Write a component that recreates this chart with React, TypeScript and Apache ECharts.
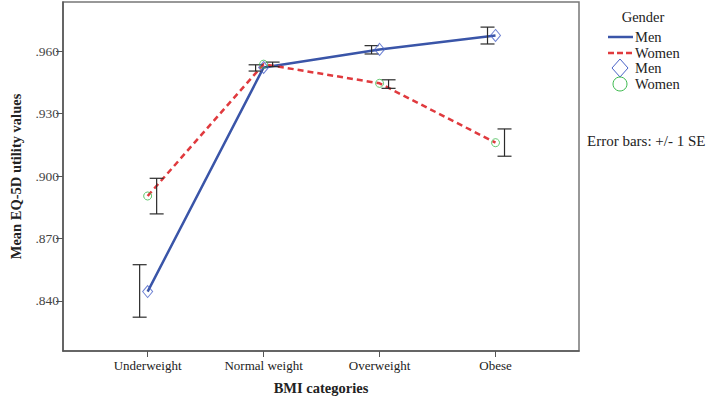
import React, { useEffect, useRef } from "react";
import * as echarts from "echarts";

const categories = ["Underweight", "Normal weight", "Overweight", "Obese"];
const menMean = [0.8445, 0.9521, 0.9608, 0.9675];
const menLow = [0.8322, 0.9504, 0.9586, 0.9634];
const menHigh = [0.8574, 0.9534, 0.9626, 0.9715];
const womenMean = [0.8904, 0.9537, 0.9445, 0.916];
const womenLow = [0.8818, 0.9525, 0.9421, 0.9095];
const womenHigh = [0.8989, 0.9547, 0.9462, 0.9226];
const yTicks = [0.84, 0.87, 0.9, 0.93, 0.96];
const xTicks = [0, 1, 2, 3];

const FONT = "Liberation Serif";
const MEN_COLOR = "#3a55a8";
const WOMEN_COLOR = "#e03a3e";
const MEN_MARK = "#4a63c8";
const WOMEN_MARK = "#3dba4e";

function errorBarSeries(low: number[], high: number[], offset: number) {
  return {
    type: "custom",
    z: 5,
    data: low.map((l, i) => [i, l, high[i]]),
    renderItem: (params: any, api: any) => {
      const x = api.value(0);
      const top = api.coord([x, api.value(2)]);
      const bot = api.coord([x, api.value(1)]);
      const cx = top[0] + offset;
      const hw = 7;
      const style = { stroke: "#2b2b2b", lineWidth: 1.2 };
      return {
        type: "group",
        children: [
          { type: "line", shape: { x1: cx, y1: top[1], x2: cx, y2: bot[1] }, style },
          { type: "line", shape: { x1: cx - hw, y1: top[1], x2: cx + hw, y2: top[1] }, style },
          { type: "line", shape: { x1: cx - hw, y1: bot[1], x2: cx + hw, y2: bot[1] }, style },
        ],
      };
    },
  };
}

export default function App() {
  const ref = useRef<HTMLDivElement>(null);
  useEffect(() => {
    if (!ref.current) return;
    const chart = echarts.init(ref.current, null, { renderer: "svg" });
    const txt = { fontFamily: FONT, fontSize: 14.5, fill: "#222" };
    chart.setOption({
      animation: false,
      backgroundColor: "#fff",
      textStyle: { fontFamily: FONT },
      grid: {
        left: 54,
        right: 130,
        top: 2,
        bottom: 49,
        show: true,
        borderColor: "#777",
        borderWidth: 1.5,
        backgroundColor: "transparent",
      },
      xAxis: {
        type: "value",
        min: -0.73,
        max: 3.72,
        name: "BMI categories",
        nameLocation: "middle",
        nameGap: 29,
        nameTextStyle: { fontFamily: FONT, fontSize: 14.5, fontWeight: "bold", color: "#222" },
        splitLine: { show: false },
        axisLine: { onZero: false, lineStyle: { color: "#555", width: 1.5 } },
        axisTick: { customValues: xTicks, length: 6, lineStyle: { color: "#555" } },
        axisLabel: {
          customValues: xTicks,
          formatter: (v: number) => categories[Math.round(v)] ?? "",
          fontFamily: FONT,
          fontSize: 13,
          color: "#222",
          margin: 8,
        },
      },
      yAxis: {
        type: "value",
        min: 0.81596,
        max: 0.98356,
        name: "Mean EQ-5D utility values",
        nameLocation: "middle",
        nameGap: 40,
        nameRotate: 90,
        nameTextStyle: { fontFamily: FONT, fontSize: 14.5, fontWeight: "bold", color: "#222" },
        splitLine: { show: false },
        axisLine: { show: true, onZero: false, lineStyle: { color: "#555", width: 1.5 } },
        axisTick: { show: true, customValues: yTicks, length: 7, lineStyle: { color: "#555" } },
        axisLabel: {
          customValues: yTicks,
          formatter: (v: number) => v.toFixed(3).replace(/^0/, ""),
          fontFamily: FONT,
          fontSize: 13.5,
          color: "#444",
          margin: 4,
        },
      },
      series: [
        {
          type: "line",
          name: "Men",
          data: menMean.map((v, i) => [i, v]),
          showSymbol: false,
          lineStyle: { color: MEN_COLOR, width: 2.5 },
          z: 3,
        },
        {
          type: "line",
          name: "Women",
          data: womenMean.map((v, i) => [i, v]),
          showSymbol: false,
          lineStyle: { color: WOMEN_COLOR, width: 2.5, type: [6, 4] },
          z: 3,
        },
        {
          type: "scatter",
          data: menMean.map((v, i) => [i, v]),
          symbol: "diamond",
          symbolSize: [10, 12],
          itemStyle: { color: "rgba(255,255,255,0)", borderColor: MEN_MARK, borderWidth: 1 },
          z: 6,
        },
        {
          type: "scatter",
          data: womenMean.map((v, i) => [i, v]),
          symbol: "circle",
          symbolSize: 8,
          itemStyle: { color: "rgba(255,255,255,0)", borderColor: WOMEN_MARK, borderWidth: 1 },
          z: 6,
        },
        errorBarSeries(menLow, menHigh, -8),
        errorBarSeries(womenLow, womenHigh, 9),
      ],
      graphic: [
        { type: "text", x: 643, y: 17, style: { ...txt, text: "Gender", align: "center", verticalAlign: "middle" } },
        { type: "line", shape: { x1: 608, y1: 37, x2: 633, y2: 37 }, style: { stroke: MEN_COLOR, lineWidth: 2.5 } },
        { type: "text", x: 635, y: 37, style: { ...txt, text: "Men", verticalAlign: "middle" } },
        { type: "line", shape: { x1: 608, y1: 53, x2: 633, y2: 53 }, style: { stroke: WOMEN_COLOR, lineWidth: 2.5, lineDash: [6, 3] } },
        { type: "text", x: 635, y: 53, style: { ...txt, text: "Women", verticalAlign: "middle" } },
        {
          type: "polygon",
          shape: { points: [[620, 59], [628, 68], [620, 77], [612, 68]] },
          style: { fill: "none", stroke: MEN_MARK, lineWidth: 1 },
        },
        { type: "text", x: 635, y: 68, style: { ...txt, text: "Men", verticalAlign: "middle" } },
        { type: "circle", shape: { cx: 620, cy: 84, r: 7 }, style: { fill: "none", stroke: WOMEN_MARK, lineWidth: 1 } },
        { type: "text", x: 635, y: 84, style: { ...txt, text: "Women", verticalAlign: "middle" } },
        { type: "text", x: 587, y: 141, style: { ...txt, fontSize: 15, text: "Error bars: +/- 1 SE", verticalAlign: "middle" } },
      ],
    });
    return () => chart.dispose();
  }, []);
  return (
    <div
      ref={ref}
      style={{ position: "fixed", left: 0, top: 0, width: 709, height: 400, background: "#fff" }}
    />
  );
}
